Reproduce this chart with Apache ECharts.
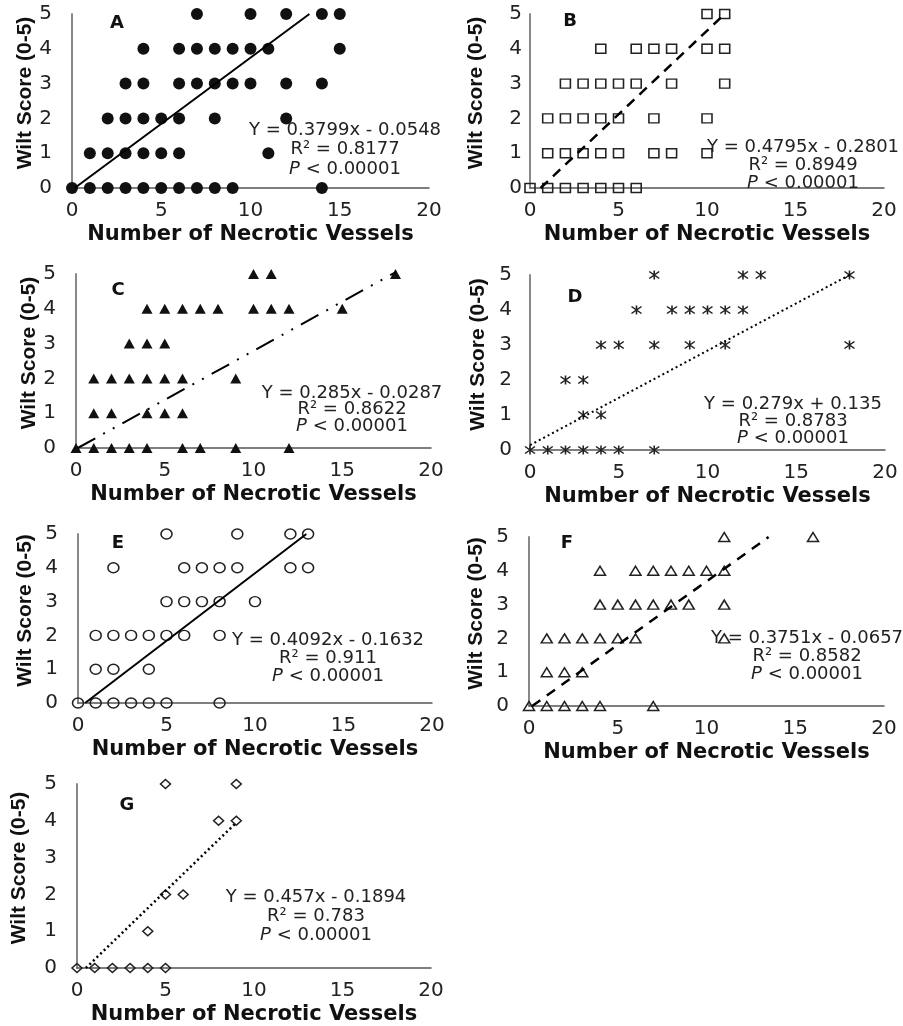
<!DOCTYPE html>
<html>
<head>
<meta charset="utf-8">
<title>Wilt Score vs Number of Necrotic Vessels</title>
<style>
html, body { margin: 0; padding: 0; background: #fff; }
#main { width: 903px; height: 1026px; }
</style>
</head>
<body>
<div id="main"></div>
<script src="https://cdn.jsdelivr.net/npm/echarts@6/dist/echarts.min.js"></script>
<script type="text/javascript">
// wilt scores, one row of x values (necrotic vessels) per score 0..5
var scores = [0, 1, 2, 3, 4, 5];

var xA = [[0,1,2,3,4,5,6,7,8,9,14], [1,2,3,4,5,6,11], [2,3,4,5,6,8,12], [3,4,6,7,8,9,10,12,14], [4,6,7,8,9,10,11,15], [7,10,12,14,15]];
var xB = [[0,1,2,3,4,5,6], [1,2,3,4,5,7,8,10], [1,2,3,4,5,7,10], [2,3,4,5,6,8,11], [4,6,7,8,10,11], [10,11]];
var xC = [[0,1,2,3,4,6,7,9,12], [1,2,4,5,6], [1,2,3,4,5,6,9], [3,4,5], [4,5,6,7,8,10,11,12,15], [10,11,18]];
var xD = [[0,1,2,3,4,5,7], [3,4], [2,3], [4,5,7,9,11,18], [6,8,9,10,11,12], [7,12,13,18]];
var xE = [[0,1,2,3,4,5,8], [1,2,4], [1,2,3,4,5,6,8], [5,6,7,8,10], [2,6,7,8,9,12,13], [5,9,12,13]];
var xF = [[0,1,2,3,4,7], [1,2,3], [1,2,3,4,5,6,11], [4,5,6,7,8,9,11], [4,6,7,8,9,10,11], [11,16]];
var xG = [[0,1,2,3,4,5], [4], [5,6], [], [8,9], [5,9]];

// trend line end points
var fitA = [[0.15, 0], [13.3, 5]];
var fitB = [[0.6, 0], [11, 5]];
var fitC = [[0.1, 0], [18, 5.05]];
var fitD = [[0, 0.14], [18, 5]];
var fitE = [[0.4, 0], [12.9, 5]];
var fitF = [[0.18, 0], [13.5, 5]];
var fitG = [[0.5, 0], [9, 3.95]];

var eqA = ['Y = 0.3799x - 0.0548', 'R\u00b2 = 0.8177'];
var eqB = ['Y = 0.4795x - 0.2801', 'R\u00b2 = 0.8949'];
var eqC = ['Y = 0.285x - 0.0287', 'R\u00b2 = 0.8622'];
var eqD = ['Y = 0.279x + 0.135', 'R\u00b2 = 0.8783'];
var eqE = ['Y = 0.4092x - 0.1632', 'R\u00b2 = 0.911'];
var eqF = ['Y = 0.3751x - 0.0657', 'R\u00b2 = 0.8582'];
var eqG = ['Y = 0.457x - 0.1894', 'R\u00b2 = 0.783'];
var pText = '{i|P} < 0.00001';

var xTicks = [0, 5, 10, 15, 20];
var yTicks = [0, 1, 2, 3, 4, 5];

var star = 'path://M0,0L10,10M10,0L0,10M5,-1.5L5,11.5';

// layout / look of each panel
var panels = [
    {id: 'A', xs: xA, fit: fitA, eq: eqA, g: [72, 14, 357, 174], yGap: 33, lm: 20, eqPos: [345, 130, 19.5], lt: [117, 23],
     sym: 'circle', size: 12, fill: '#111', line: {type: 'solid', width: 2}},
    {id: 'B', xs: xB, fit: fitB, eq: eqB, g: [530, 14, 354, 174], yGap: 43, lm: 8, eqPos: [803, 147, 18], lt: [570, 21],
     sym: 'rect', size: [10, 9], fill: 'rgba(0,0,0,0)', line: {type: [10, 7], width: 2.5}},
    {id: 'C', xs: xC, fit: fitC, eq: eqC, g: [76, 274, 355, 174], yGap: 36, lm: 20, eqPos: [352, 393, 16.5], lt: [118, 290],
     sym: 'triangle', size: [11, 10], fill: '#111', line: {type: [20, 9, 2, 9, 2, 9], width: 2}},
    {id: 'D', xs: xD, fit: fitD, eq: eqD, g: [530, 275, 355, 175], yGap: 41, lm: 18, eqPos: [793, 404, 17], lt: [575, 297],
     sym: star, size: [10, 9], fill: 'rgba(0,0,0,0)', line: {type: [2, 3], width: 2}},
    {id: 'E', xs: xE, fit: fitE, eq: eqE, g: [78, 534, 354, 169], yGap: 42, lm: 20, eqPos: [328, 640, 18], lt: [118, 543],
     sym: 'circle', size: [11, 10], fill: 'rgba(0,0,0,0)', line: {type: 'solid', width: 2}},
    {id: 'F', xs: xF, fit: fitF, eq: eqF, g: [529, 537, 355, 169], yGap: 42, lm: 20, eqPos: [807, 638, 18], lt: [567, 543],
     sym: 'triangle', size: [11, 9], fill: 'rgba(0,0,0,0)', line: {type: [10, 8], width: 2.5}},
    {id: 'G', xs: xG, fit: fitG, eq: eqG, g: [77, 784, 354, 187], yGap: 47, lm: 20, eqPos: [316, 897, 19], lt: [127, 805],
     sym: 'diamond', size: [10, 9], fill: 'rgba(0,0,0,0)', line: {type: [2, 3], width: 2.5}}
];

function points(xs) {
    var out = [];
    for (var s = 0; s < scores.length; s++) {
        for (var k = 0; k < xs[s].length; k++) {
            out.push([xs[s][k], scores[s]]);
        }
    }
    return out;
}

var grid = [], xAxis = [], yAxis = [], series = [], graphic = [];

panels.forEach(function (p, i) {
    grid.push({left: p.g[0], top: p.g[1], width: p.g[2], height: p.g[3]});
    xAxis.push({
        gridIndex: i, type: 'value', min: xTicks[0], max: xTicks[xTicks.length - 1], interval: 5,
        name: 'Number of Necrotic Vessels', nameLocation: 'middle', nameGap: 36,
        nameTextStyle: {fontFamily: 'DejaVu Sans', fontWeight: 'bold', fontSize: 21, color: '#111'},
        axisLine: {lineStyle: {color: '#555', width: 1.5}},
        axisTick: {show: false}, splitLine: {show: false},
        axisLabel: {margin: 13, fontFamily: 'DejaVu Sans', fontSize: 20, color: '#222'}
    });
    yAxis.push({
        gridIndex: i, type: 'value', min: yTicks[0], max: yTicks[yTicks.length - 1], interval: 1,
        name: 'Wilt Score (0-5)', nameLocation: 'middle', nameGap: p.yGap, nameRotate: 90,
        nameTextStyle: {fontFamily: 'Liberation Sans', fontWeight: 'bold', fontSize: 21, color: '#111',
                        padding: [0, 0, 0, 16]},
        axisLine: {show: true, lineStyle: {color: '#888', width: 2}},
        axisTick: {show: false}, splitLine: {show: false},
        axisLabel: {margin: p.lm, fontFamily: 'DejaVu Sans', fontSize: 20, color: '#222'}
    });
    series.push({
        type: 'scatter', xAxisIndex: i, yAxisIndex: i, data: points(p.xs),
        symbol: p.sym, symbolSize: p.size, clip: false, z: 2,
        itemStyle: {color: p.fill, borderColor: '#222', borderWidth: p.fill === '#111' ? 0 : 1.5, opacity: 1}
    });
    series.push({
        type: 'line', xAxisIndex: i, yAxisIndex: i, data: p.fit,
        symbol: 'none', clip: false, z: 3, silent: true,
        lineStyle: {color: '#000', width: p.line.width, type: p.line.type}
    });
    var ex = p.eqPos[0], ey = p.eqPos[1], gap = p.eqPos[2];
    var lines = [p.eq[0], p.eq[1], pText];
    lines.forEach(function (t, j) {
        graphic.push({
            type: 'text', x: ex, y: ey + j * gap, z: 10,
            style: {
                text: t, textAlign: 'center', textVerticalAlign: 'middle',
                fontFamily: 'DejaVu Sans', fontSize: 18, fill: '#222',
                rich: {i: {fontStyle: 'italic', fontFamily: 'DejaVu Sans', fontSize: 18, fill: '#222'}}
            }
        });
    });
    graphic.push({
        type: 'text', x: p.lt[0], y: p.lt[1], z: 10,
        style: {text: p.id, textAlign: 'center', textVerticalAlign: 'middle',
                fontFamily: 'DejaVu Sans', fontWeight: 'bold', fontSize: 18, fill: '#111'}
    });
});

var myChart = echarts.init(document.getElementById('main'));
myChart.setOption({
    backgroundColor: '#fff',
    animation: false,
    grid: grid,
    xAxis: xAxis,
    yAxis: yAxis,
    series: series,
    graphic: graphic
});
</script>
</body>
</html>
